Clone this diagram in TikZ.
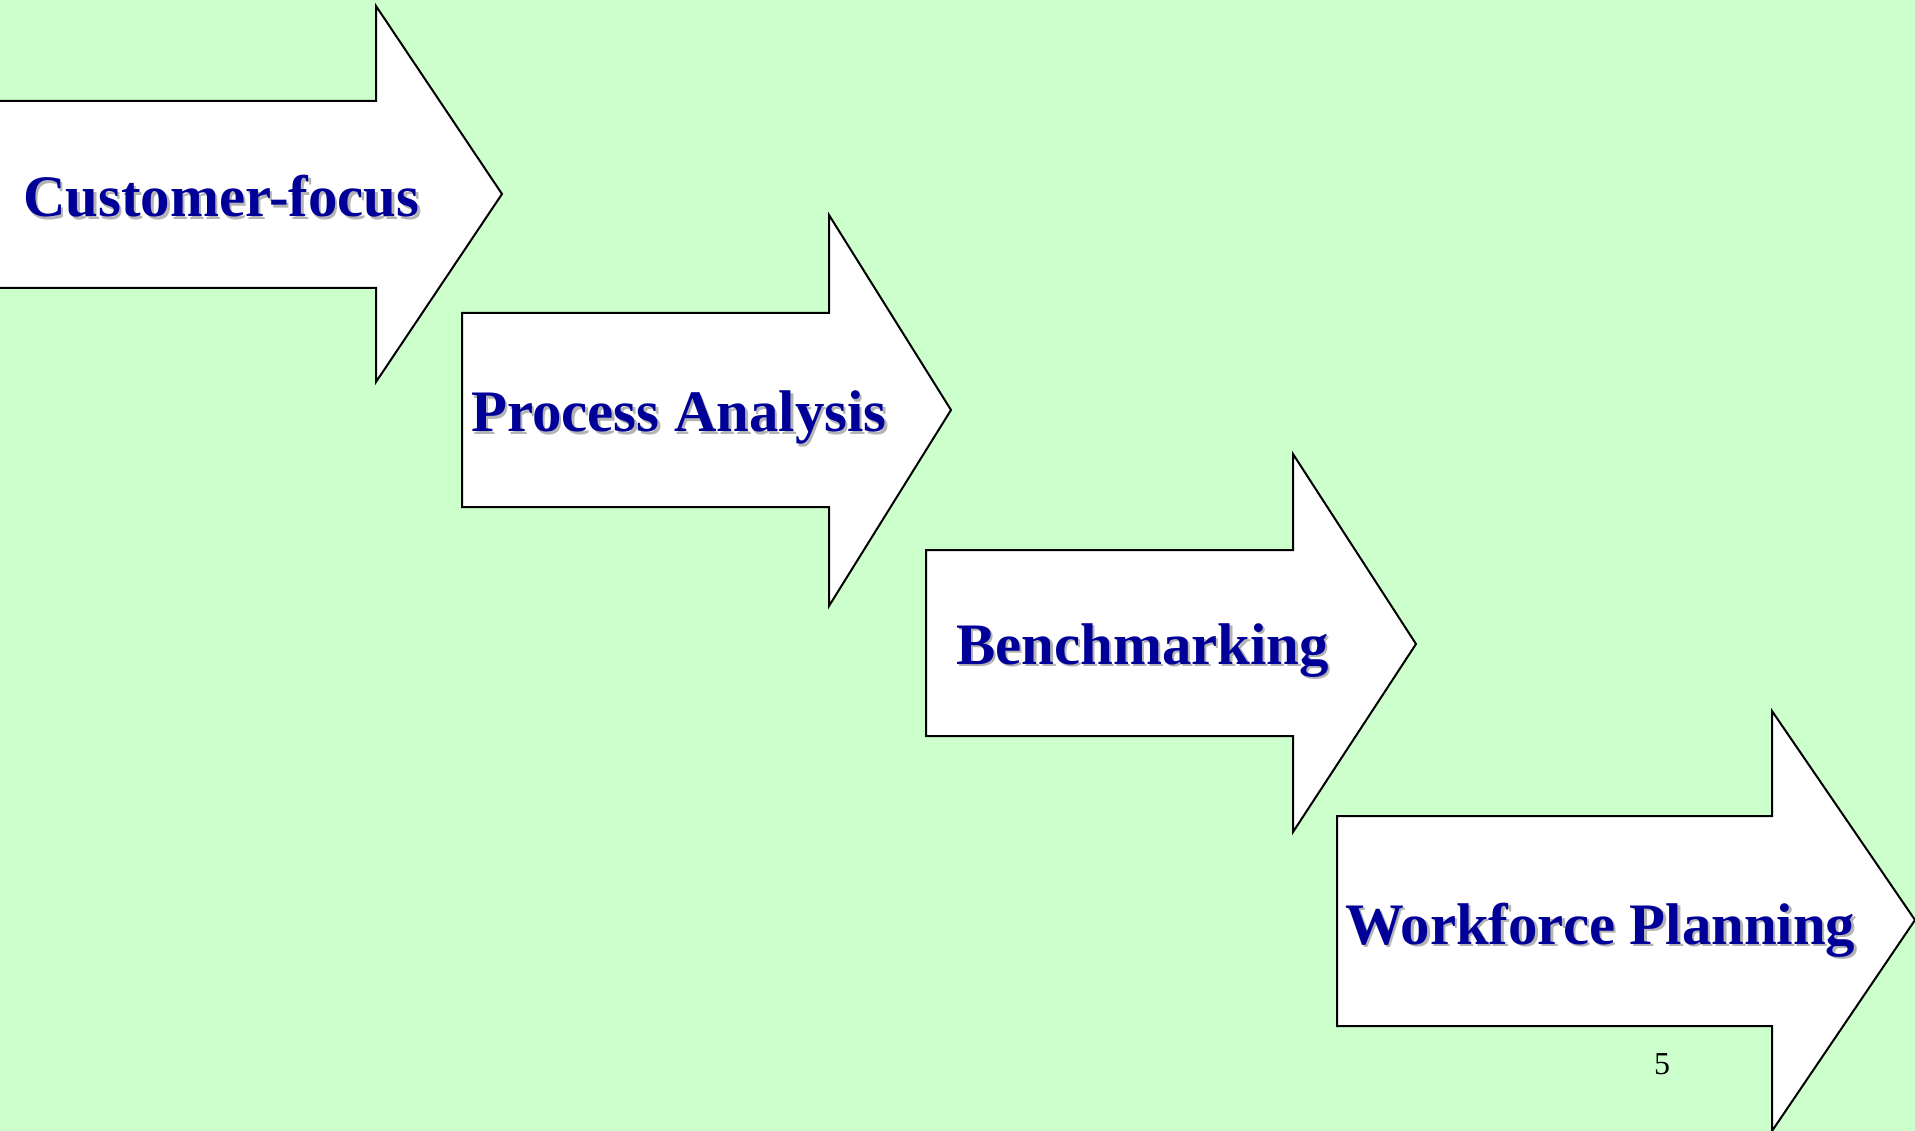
\documentclass[tikz,border=0pt]{standalone}
\usepackage{fontspec}
\setmainfont{Liberation Serif}
\definecolor{slidebg}{HTML}{CCFFCC}
\definecolor{labelblue}{HTML}{000099}
\definecolor{labelshade}{HTML}{B4B4B4}
\tikzset{
  steparrow/.style={draw=black, fill=white, line width=2pt, line join=miter},
  labeltext/.style={anchor=base west, inner sep=0pt, font=\fontsize{58.8}{70}\selectfont\bfseries},
}
% text with a soft grey drop shadow
\newcommand{\shadowlabel}[3]{%
  \node[labeltext, text=labelshade] at ($(#2)+(2.5,2.5)$) {#3};
  \node[labeltext, text=labelblue] (#1) at (#2) {#3};
}
\usetikzlibrary{calc}
\begin{document}
\begin{tikzpicture}[x=1pt, y=-1pt]
  \fill[slidebg] (0,0) rectangle (1915,1131);
  \useasboundingbox (0,0) rectangle (1915,1131);
  \clip (0,0) rectangle (1915,1131);

  % block arrows, stepping down to the right
  \draw[steparrow] (-10,101) -- (376,101) -- (376,6) -- (502,194)
        -- (376,382) -- (376,288) -- (-10,288) -- cycle;
  \draw[steparrow] (462,313) -- (829,313) -- (829,215) -- (951,410)
        -- (829,606) -- (829,507) -- (462,507) -- cycle;
  \draw[steparrow] (926,550) -- (1293,550) -- (1293,454) -- (1416,644)
        -- (1293,832) -- (1293,736) -- (926,736) -- cycle;
  \draw[steparrow] (1337,816) -- (1772,816) -- (1772,711) -- (1915,920)
        -- (1772,1131) -- (1772,1026) -- (1337,1026) -- cycle;

  % labels
  \coordinate (p1) at (23,217);
  \coordinate (p2) at (471,432);
  \coordinate (p3) at (956,664);
  \coordinate (p4) at (1345,944);
  \shadowlabel{customer}{p1}{Customer-focus}
  \shadowlabel{process}{p2}{Process Analysis}
  \shadowlabel{bench}{p3}{Benchmarking}
  \shadowlabel{workforce}{p4}{Workforce Planning}

  % page number
  \node[anchor=base, inner sep=0pt, font=\fontsize{32}{38}\selectfont] (pagenum) at (1662,1074) {5};
\end{tikzpicture}
\end{document}
